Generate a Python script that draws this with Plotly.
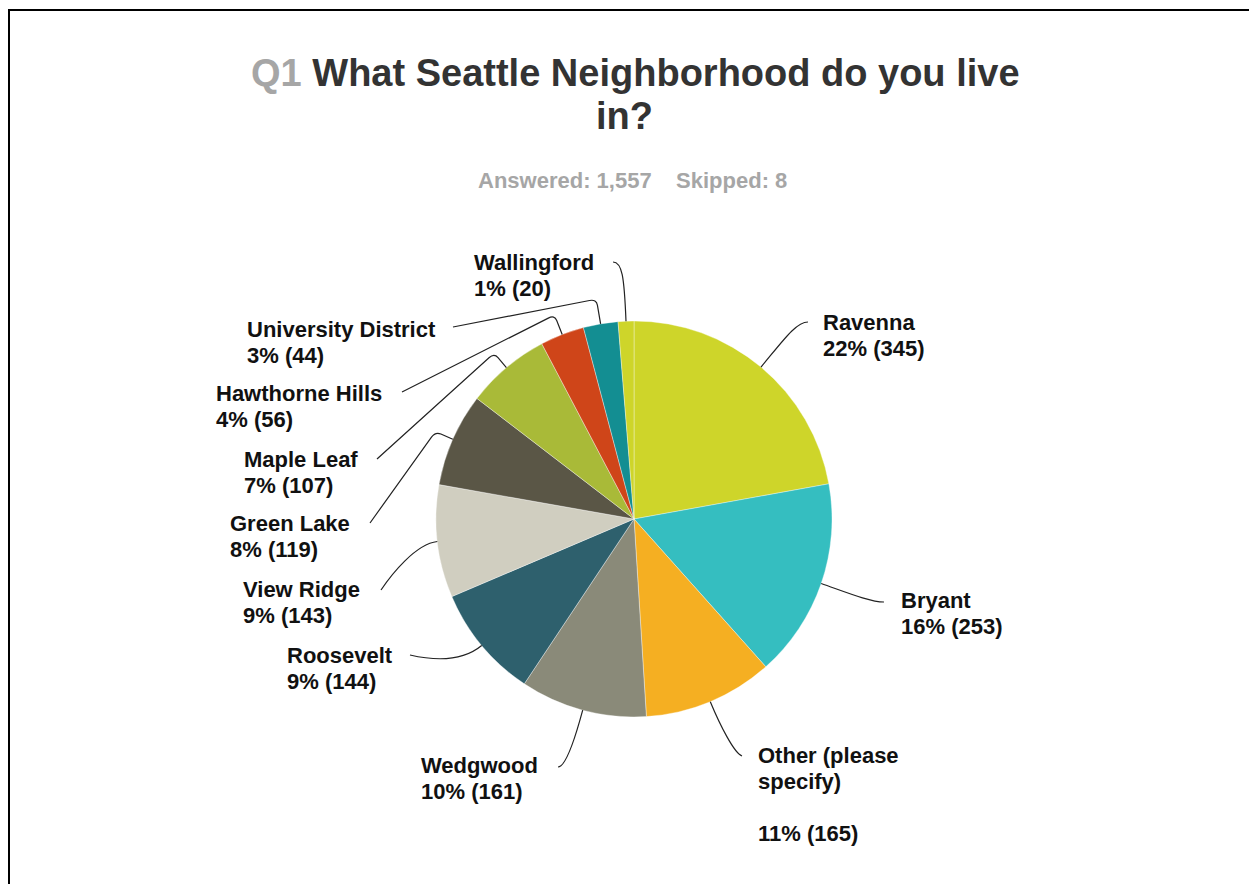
import math

import plotly.graph_objects as go

# survey data
neighborhoods = [
    "Ravenna", "Bryant", "Other (please specify)", "Wedgwood", "Roosevelt",
    "View Ridge", "Green Lake", "Maple Leaf", "Hawthorne Hills",
    "University District", "Wallingford",
]
responses = [345, 253, 165, 161, 144, 143, 119, 107, 56, 44, 20]
answered = 1557
skipped = 8

colors = [
    "#CED52A", "#35BEC0", "#F5AF22", "#8A8A79", "#2E606D",
    "#D0CEC0", "#5A5646", "#A9BA38", "#CF4519", "#138E92", "#CED52A",
]

# page / pie geometry in page pixels (page body has an 8px margin)
W, H = 1257, 884
OX, OY = 8, 8
cx, cy, r = 634, 519, 198
FONT = "Liberation Sans, Arial, sans-serif"
LABEL_SIZE = 22
LINE_GAP = 26

# label layout: text left, first baseline, leader end x/y, radial ext, control offset, style
placement = {
    "Ravenna": (822, 330, 808, 322, 35, -12, 0, "curve"),
    "Bryant": (900, 608, 884, 602, 25, -14, 0, "curve"),
    "Other (please specify)": (757, 763, 742, 756, 25, -8, -3, "curve"),
    "Wedgwood": (420, 773, 558, 767, 25, 8, 0, "curve"),
    "Roosevelt": (286, 663, 410, 655, 18, 35, 8, "curve"),
    "View Ridge": (242, 597, 381, 590, 22, 10, -15, "curve"),
    "Green Lake": (229, 531, 370, 523, 19, 0, 0, "elbow"),
    "Maple Leaf": (243, 467, 377, 459, 19, 0, 0, "elbow"),
    "Hawthorne Hills": (215, 401, 402, 392, 21, 0, 0, "elbow"),
    "University District": (246, 337, 453, 327, 25, 0, 0, "elbow"),
    "Wallingford": (473, 270, 613, 262, 45, 9, 0, "curve"),
}
wrapped = {"Other (please specify)": ["Other (please", "specify)", ""]}

total = sum(responses)
fw, fh = W - OX, H - OY

fig = go.Figure()
fig.add_trace(
    go.Pie(
        labels=neighborhoods,
        values=responses,
        sort=False,
        direction="clockwise",
        rotation=0,
        marker=dict(colors=colors, line=dict(color="rgba(255,255,255,0.6)", width=0.6)),
        textinfo="none",
        hoverinfo="label+value+percent",
        showlegend=False,
        domain=dict(
            x=[(cx - r - OX) / fw, (cx + r - OX) / fw],
            y=[1 - (cy + r - OY) / fh, 1 - (cy - r - OY) / fh],
        ),
    )
)

shapes = []
annotations = []
edge_x, edge_y = [], []
cum = 0
for name, v in zip(neighborhoods, responses):
    theta = 2 * math.pi * (cum + v / 2) / total
    cum += v
    dx, dy = math.sin(theta), -math.cos(theta)
    ex, ey = cx + r * dx, cy + r * dy
    edge_x.append(ex)
    edge_y.append(ey)
    tx, base, endx, endy, ext, c2dx, c2dy, style = placement[name]
    if style == "curve":
        c1x, c1y = ex + ext * dx, ey + ext * dy
        c2x, c2y = endx + c2dx, endy + c2dy
        path = f"M {ex:.1f},{ey:.1f} C {c1x:.1f},{c1y:.1f} {c2x:.1f},{c2y:.1f} {endx},{endy}"
    else:
        ax, ay = ex + (ext - 6) * dx, ey + (ext - 6) * dy
        kx, ky = ex + ext * dx, ey + ext * dy
        ux, uy = endx - kx, endy - ky
        n = math.hypot(ux, uy)
        bx, by = kx + 7 * ux / n, ky + 7 * uy / n
        path = (f"M {ex:.1f},{ey:.1f} L {ax:.1f},{ay:.1f} Q {kx:.1f},{ky:.1f} "
                f"{bx:.1f},{by:.1f} L {endx},{endy}")
    shapes.append(dict(
        type="path", xref="x", yref="y", path=path,
        line=dict(color="#222222", width=1.2),
    ))
    pct = round(v / total * 100)
    lines = wrapped.get(name, [name]) + [f"{pct}% ({v})"]
    for i, line in enumerate(lines):
        if not line:
            continue
        annotations.append(dict(
            x=tx, y=base + i * LINE_GAP - round(0.96 * LABEL_SIZE), xref="x", yref="y",
            xanchor="left", yanchor="top", align="left", showarrow=False,
            text=line, borderpad=0,
            font=dict(family=FONT, size=LABEL_SIZE, color="#111111", weight="bold"),
        ))

# invisible anchor trace so the pixel axes exist
fig.add_trace(go.Scatter(
    x=edge_x, y=edge_y, mode="markers", marker=dict(opacity=0),
    hoverinfo="skip", showlegend=False,
))

# title block
annotations.append(dict(
    x=635, y=73, xref="x", yref="y", xanchor="center", yanchor="middle",
    showarrow=False,
    text="<span style='color:#a6a6a6'>Q1</span> What Seattle Neighborhood do you live",
    font=dict(family=FONT, size=38, color="#333333", weight="bold"),
))
annotations.append(dict(
    x=624, y=116, xref="x", yref="y", xanchor="center", yanchor="middle",
    showarrow=False, text="in?",
    font=dict(family=FONT, size=38, color="#333333", weight="bold"),
))
annotations.append(dict(
    x=632, y=180, xref="x", yref="y", xanchor="center", yanchor="middle",
    showarrow=False,
    text=f"Answered: {answered:,}&nbsp;&nbsp;&nbsp;&nbsp;Skipped: {skipped}",
    font=dict(family=FONT, size=22, color="#a6a6a6", weight="bold"),
))

# page frame
shapes.append(dict(
    type="rect", xref="x", yref="y", x0=9, y0=10, x1=W + 10, y1=H + 10,
    line=dict(color="#000000", width=2), layer="below",
))

fig.update_layout(
    width=fw,
    height=fh,
    margin=dict(l=0, r=0, t=0, b=0),
    paper_bgcolor="white",
    plot_bgcolor="rgba(0,0,0,0)",
    xaxis=dict(range=[OX, W], visible=False, fixedrange=True),
    yaxis=dict(range=[H, OY], visible=False, fixedrange=True),
    shapes=shapes,
    annotations=annotations,
)

fig.write_html("out.html")
